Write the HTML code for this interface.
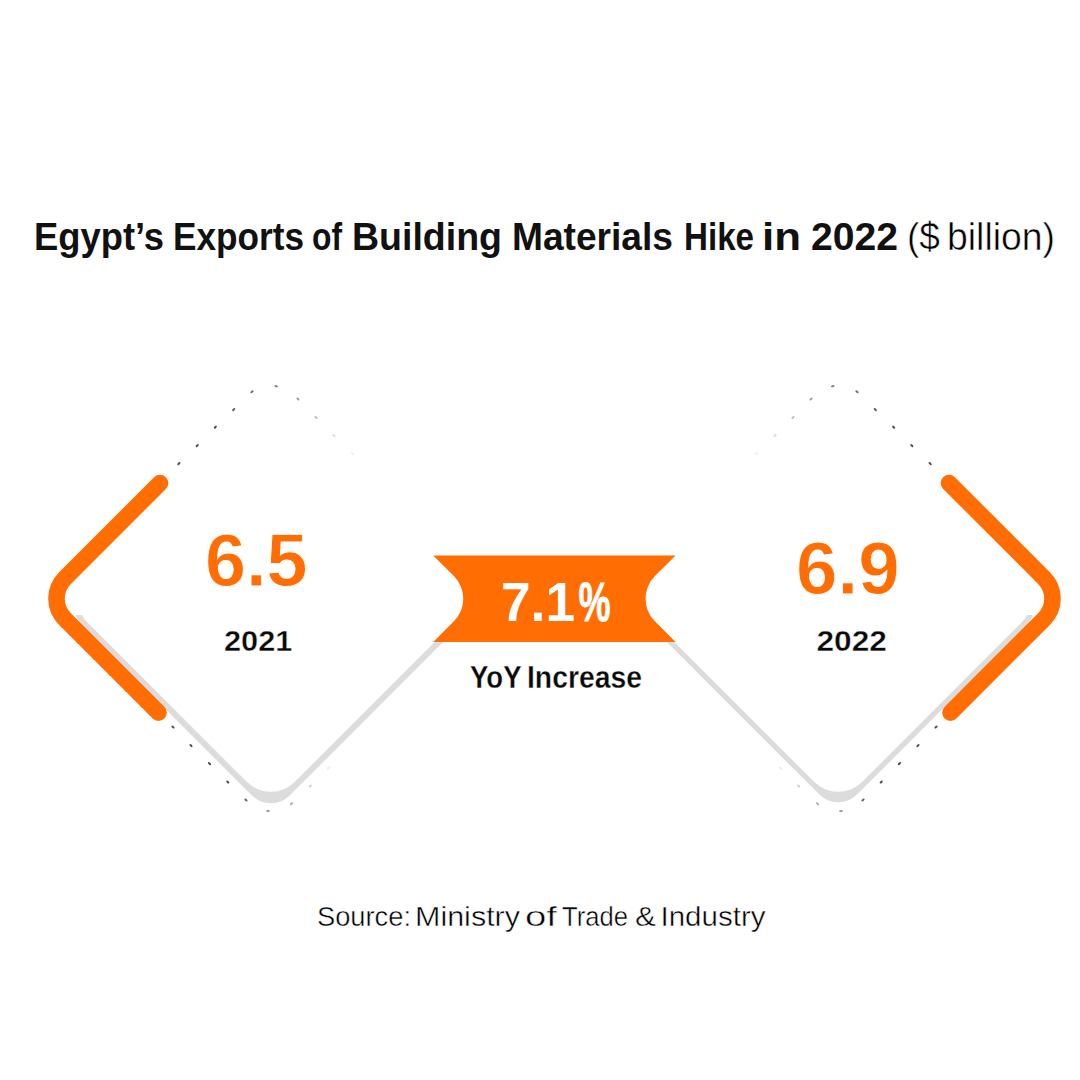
<!DOCTYPE html>
<html lang="en">
<head>
<meta charset="utf-8">
<title>Egypt’s Exports of Building Materials Hike in 2022</title>
<style>
html,body{margin:0;padding:0;background:#fff;}
body{width:1080px;height:1080px;overflow:hidden;}
svg{display:block;}
text{font-family:"Liberation Sans",sans-serif;}
.b{font-weight:700;}
</style>
</head>
<body>
<svg width="1080" height="1080" viewBox="0 0 1080 1080">
<rect width="1080" height="1080" fill="#fff"/>


<!-- grey shadows -->
<clipPath id="low"><rect x="0" y="615" width="1080" height="300"/></clipPath>
<g fill="#DCDCDC" clip-path="url(#low)">
<rect x="-146.5" y="-146.5" width="293" height="293" rx="27" transform="translate(270.8,607.2) rotate(45)"/>
<rect x="-146.5" y="-146.5" width="293" height="293" rx="27" transform="translate(838.2,606.2) rotate(45)"/>
</g>
<!-- white diamonds -->
<g fill="#fff">
<rect x="-146.5" y="-146.5" width="293" height="293" rx="34" transform="translate(270.8,598.7) rotate(45)"/>
<rect x="-146.5" y="-146.5" width="293" height="293" rx="34" transform="translate(838.2,598.7) rotate(45)"/>
</g>
<!-- ribbon -->
<path fill="#FF6D03" d="M433.2 555.4 L453.87 576.07 A32 32 0 0 1 453.87 621.33 L433.2 642 L675.6 642 L654.93 621.33 A32 32 0 0 1 654.93 576.07 L675.6 555.4 Z"/>

<!-- dotted outlines : left -->
<g id="dotsL" fill="#4d4d4d">
<ellipse rx="1.9" ry="1.05" transform="translate(178.9,463.6) rotate(-45)"/><ellipse rx="1.9" ry="1.05" transform="translate(197.2,445.6) rotate(-45)"/><ellipse rx="1.9" ry="1.05" transform="translate(215.3,427.2) rotate(-45)"/><ellipse rx="1.9" ry="1.05" transform="translate(233.7,409.6) rotate(-45)" opacity=".92"/><ellipse rx="1.9" ry="1.05" transform="translate(252,391.7) rotate(-40)" opacity=".82"/><ellipse rx="1.9" ry="1.05" transform="translate(276.2,386.2) rotate(12)" opacity=".72"/><ellipse rx="1.9" ry="1.05" transform="translate(298,399) rotate(45)" opacity="0.55"/><ellipse rx="1.9" ry="1.05" transform="translate(316,417.5) rotate(45)" opacity="0.38"/><ellipse rx="1.9" ry="1.05" transform="translate(334,435.5) rotate(45)" opacity="0.2"/><ellipse rx="1.9" ry="1.05" transform="translate(352.5,453.5) rotate(45)" opacity="0.09"/><ellipse rx="1.9" ry="1.05" transform="translate(173,727) rotate(45)"/><ellipse rx="1.9" ry="1.05" transform="translate(191,745.6) rotate(45)"/><ellipse rx="1.9" ry="1.05" transform="translate(209.5,763.6) rotate(45)"/><ellipse rx="1.9" ry="1.05" transform="translate(227.8,782) rotate(45)"/><ellipse rx="1.9" ry="1.05" transform="translate(246,800) rotate(42)" opacity=".9"/><ellipse rx="1.9" ry="1.05" transform="translate(268,811) rotate(0)" opacity=".6"/><ellipse rx="1.9" ry="1.05" transform="translate(291.5,803.8) rotate(-40)" opacity=".45"/><ellipse rx="1.9" ry="1.05" transform="translate(310.3,786) rotate(-45)" opacity=".26"/><ellipse rx="1.9" ry="1.05" transform="translate(328.5,768) rotate(-45)" opacity=".1"/>
</g>
<!-- right = mirror about x=554.5 -->
<use href="#dotsL" transform="translate(1109,0) scale(-1,1)"/>

<!-- orange brackets -->
<g fill="none" stroke="#FF6D03" stroke-width="16.6" stroke-linecap="round" stroke-linejoin="round">
<path id="brL" d="M160 483.1 L65 578.1 A29 29 0 0 0 65 619.1 L158.5 712.6"/>
<use href="#brL" transform="translate(1109,0) scale(-1,1)"/>
</g>

<!-- title -->
<text class="b" y="250.4" font-size="38" fill="#111"><tspan x="34" textLength="130" lengthAdjust="spacingAndGlyphs">Egypt’s</tspan> <tspan x="173" textLength="131" lengthAdjust="spacingAndGlyphs">Exports</tspan> <tspan x="312" textLength="30" lengthAdjust="spacingAndGlyphs">of</tspan> <tspan x="352" textLength="150" lengthAdjust="spacingAndGlyphs">Building</tspan> <tspan x="512" textLength="161" lengthAdjust="spacingAndGlyphs">Materials</tspan> <tspan x="684" textLength="70" lengthAdjust="spacingAndGlyphs">Hike</tspan> <tspan x="762" textLength="39" lengthAdjust="spacingAndGlyphs">in</tspan> <tspan x="811" textLength="87" lengthAdjust="spacingAndGlyphs">2022</tspan></text>
<text y="250.4" font-size="38" fill="#000" stroke="#fff" stroke-width=".5"><tspan x="907" textLength="33" lengthAdjust="spacingAndGlyphs">($</tspan> <tspan x="947" textLength="108" lengthAdjust="spacingAndGlyphs">billion)</tspan></text>

<!-- numbers -->
<text class="b" x="205" y="585.8" font-size="74" fill="#FF6D03" stroke="#fff" stroke-width=".9" textLength="102.6" lengthAdjust="spacingAndGlyphs">6.5</text>
<text class="b" x="224" y="651" font-size="30" fill="#0a0a0a" stroke="#fff" stroke-width=".4" textLength="68.4" lengthAdjust="spacingAndGlyphs">2021</text>
<text class="b" x="796" y="593.9" font-size="74" fill="#FF6D03" stroke="#fff" stroke-width=".9" textLength="103.6" lengthAdjust="spacingAndGlyphs">6.9</text>
<text class="b" x="816.5" y="651" font-size="30" fill="#0a0a0a" stroke="#fff" stroke-width=".4" textLength="70.4" lengthAdjust="spacingAndGlyphs">2022</text>

<text class="b" y="620.7" font-size="56" fill="#fff"><tspan x="501" textLength="74" lengthAdjust="spacingAndGlyphs">7.1</tspan><tspan x="578.5" textLength="32" lengthAdjust="spacingAndGlyphs" stroke="#fff" stroke-width=".9">%</tspan></text>
<text class="b" y="687.8" font-size="31" fill="#0a0a0a" stroke="#fff" stroke-width=".3"><tspan x="470" textLength="51" lengthAdjust="spacingAndGlyphs">YoY</tspan> <tspan x="527" textLength="115" lengthAdjust="spacingAndGlyphs">Increase</tspan></text>

<!-- source -->
<text y="925.8" font-size="27.6" fill="#000" stroke="#fff" stroke-width=".45"><tspan x="317" textLength="94" lengthAdjust="spacingAndGlyphs">Source:</tspan> <tspan x="415" textLength="105" lengthAdjust="spacingAndGlyphs">Ministry</tspan> <tspan x="525" textLength="32" lengthAdjust="spacingAndGlyphs">of</tspan> <tspan x="562" textLength="66" lengthAdjust="spacingAndGlyphs">Trade</tspan> <tspan x="635" textLength="21" lengthAdjust="spacingAndGlyphs">&amp;</tspan> <tspan x="660.5" textLength="105" lengthAdjust="spacingAndGlyphs">Industry</tspan></text>
</svg>
</body>
</html>
